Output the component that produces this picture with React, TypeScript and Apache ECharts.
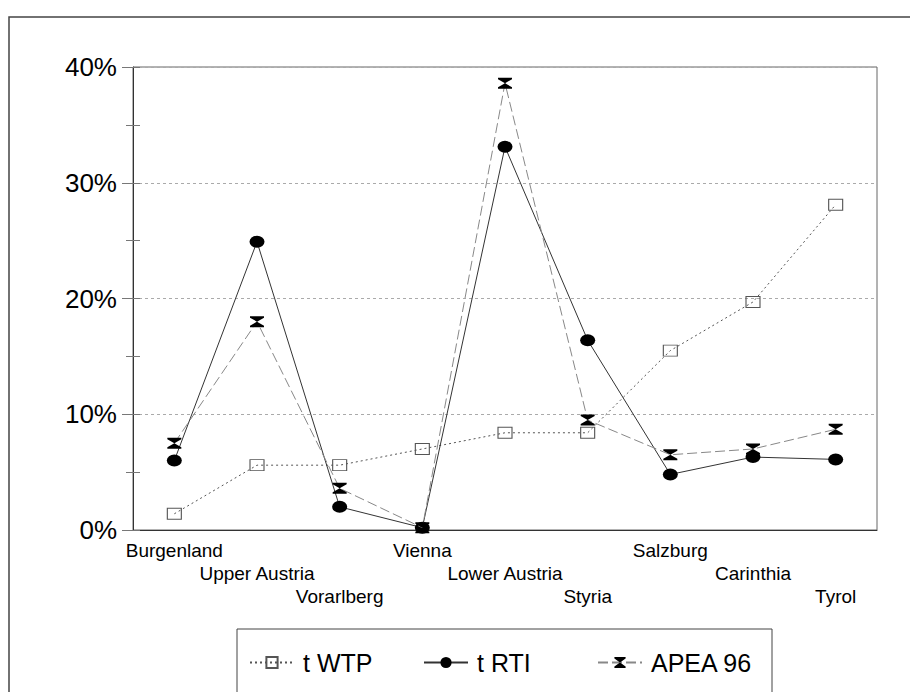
import React, { useEffect, useRef } from "react";
import * as echarts from "echarts";

const categories = [
  "Burgenland",
  "Upper Austria",
  "Vorarlberg",
  "Vienna",
  "Lower Austria",
  "Styria",
  "Salzburg",
  "Carinthia",
  "Tyrol",
];
const wtpValues = [1.4, 5.6, 5.6, 7.0, 8.4, 8.4, 15.5, 19.7, 28.1];
const rtiValues = [6.0, 24.9, 2.0, 0.2, 33.1, 16.4, 4.8, 6.3, 6.1];
const apeaValues = [7.5, 18.0, 3.6, 0.2, 38.6, 9.5, 6.5, 7.0, 8.7];
const seriesNames = ["t WTP", "t RTI", "APEA 96"];
const yTicks = { min: 0, max: 40, interval: 10 };

const FONT = "'Liberation Sans', Arial, Helvetica, sans-serif";
const ELLIPSE = "path://M0,1A1,1,0,1,0,2,1A1,1,0,1,0,0,1Z";
const HOURGLASS = "path://M0,0L14,0L14,1.5L7,5.5L14,9.5L14,11L0,11L0,9.5L7,5.5L0,1.5Z";

export default function App() {
  const ref = useRef<HTMLDivElement>(null);
  useEffect(() => {
    if (!ref.current) return;
    const chart = echarts.init(ref.current, null, { renderer: "svg" });
    const legendBase = {
      top: 650,
      padding: 0,
      itemWidth: 44,
      itemHeight: 14,
      textStyle: { fontSize: 25, color: "#000", fontFamily: FONT, padding: [0, 0, 0, 4] },
    };
    chart.setOption({
      animation: false,
      backgroundColor: "#fff",
      textStyle: { fontFamily: FONT },
      grid: {
        left: 133,
        top: 67,
        right: 41,
        bottom: 170,
        show: true,
        borderColor: "#666",
        borderWidth: 1,
      },
      legend: [
        { ...legendBase, left: 249, data: [seriesNames[0]] },
        { ...legendBase, left: 423, data: [seriesNames[1]] },
        { ...legendBase, left: 597, data: [seriesNames[2]] },
      ],
      graphic: [
        {
          type: "rect",
          shape: { x: 9, y: 17, width: 960, height: 760 },
          style: { fill: "none", stroke: "#444", lineWidth: 1.5 },
          silent: true,
        },
        {
          type: "rect",
          shape: { x: 237, y: 629, width: 535, height: 67 },
          style: { fill: "none", stroke: "#444", lineWidth: 1 },
          silent: true,
        },
      ],
      xAxis: {
        type: "category",
        data: categories,
        boundaryGap: true,
        axisLine: { lineStyle: { color: "#333", width: 1 } },
        axisTick: { alignWithLabel: true, length: 8, lineStyle: { color: "#777" } },
        axisLabel: {
          interval: 0,
          margin: 9,
          fontSize: 19,
          lineHeight: 23,
          color: "#000",
          fontFamily: FONT,
          formatter: (v: string, i: number) => "\n".repeat(i % 3) + v,
        },
      },
      yAxis: [
        {
          type: "value",
          min: yTicks.min,
          max: yTicks.max,
          interval: yTicks.interval,
          axisLine: { show: true, lineStyle: { color: "#333", width: 1 } },
          axisTick: { show: true, length: 11, lineStyle: { color: "#777" } },
          minorTick: { show: true, splitNumber: 2, length: 7, lineStyle: { color: "#777" } },
          splitLine: { show: true, lineStyle: { color: "#aaa", type: [3, 3], width: 1 } },
          axisLabel: {
            margin: 16,
            fontSize: 26,
            color: "#000",
            fontFamily: FONT,
            formatter: "{value}%",
          },
        },
        {
          type: "value",
          min: 0,
          max: 40,
          interval: 5,
          position: "left",
          axisLine: { show: false },
          axisTick: { show: true, inside: true, length: 7, lineStyle: { color: "#777" } },
          splitLine: { show: false },
          axisLabel: { show: false },
        },
      ],
      series: [
        {
          name: seriesNames[0],
          type: "line",
          data: wtpValues,
          symbol: "rect",
          symbolSize: [14, 11],
          lineStyle: { color: "#555", width: 1, type: [2, 3] },
          itemStyle: { color: "rgba(255,255,255,0)", borderColor: "#555", borderWidth: 1 },
          z: 3,
        },
        {
          name: seriesNames[1],
          type: "line",
          data: rtiValues,
          symbol: ELLIPSE,
          symbolSize: [15, 12],
          lineStyle: { color: "#333", width: 1, type: "solid" },
          itemStyle: { color: "#000" },
          z: 4,
        },
        {
          name: seriesNames[2],
          type: "line",
          data: apeaValues,
          symbol: HOURGLASS,
          symbolSize: [14, 11],
          lineStyle: { color: "#888", width: 1, type: [10, 4] },
          itemStyle: { color: "#000" },
          z: 5,
        },
      ],
    });
    return () => chart.dispose();
  }, []);
  return <div ref={ref} style={{ width: 918, height: 700, margin: -8 }} />;
}
